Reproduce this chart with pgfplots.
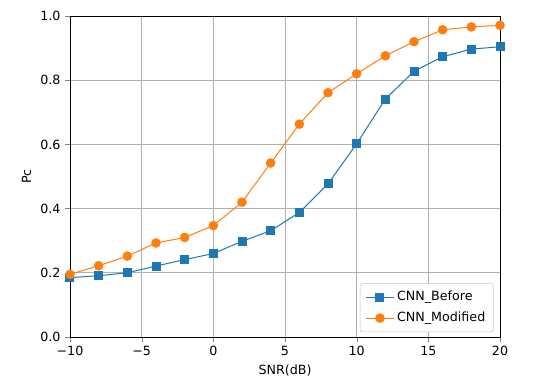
\documentclass[border=0pt]{standalone}
\usepackage{fontspec}
\setmainfont{DejaVu Sans}
\usepackage{pgfplots}
\pgfplotsset{compat=1.18}
\definecolor{mplblue}{HTML}{1F77B4}
\definecolor{mplorange}{HTML}{FF7F0E}
\definecolor{mplgrid}{HTML}{B0B0B0}
\begin{document}
\begin{tikzpicture}[x=1pt,y=1pt]
\begin{axis}[
  scale only axis,
  width=322.5pt, height=240.75pt,
  xmin=-10, xmax=20, ymin=0, ymax=1,
  xtick={-10,-5,0,5,10,15,20},
  xticklabels={−10,−5,0,5,10,15,20},
  ytick={0,0.2,0.4,0.6,0.8,1.0},
  yticklabel style={/pgf/number format/.cd,fixed,fixed zerofill,precision=1},
  /pgf/number format/assume math mode=true,
  tick label style={font=\fontsize{9.5}{11}\selectfont},
  label style={font=\fontsize{9.5}{11}\selectfont},
  xlabel={SNR(dB)}, ylabel={Pc},
  tick align=outside, tick pos=left,
  major tick length=3.6pt,
  grid=major,
  major grid style={mplgrid, line width=0.6pt},
  axis line style={line width=0.6pt},
  legend style={at={(0.985,0.015)}, anchor=south east, font=\fontsize{9.5}{11}\selectfont,
    draw=mplgrid!70, rounded corners=2pt, cells={anchor=west}, inner xsep=4pt, inner ysep=4pt, row sep=3pt},
  legend cell align=left,
  legend image code/.code={\draw[mark repeat=2,mark phase=2,#1] plot coordinates {(0pt,0pt) (10.5pt,0pt) (21pt,0pt)};},
]
\addplot[mplblue, line width=0.75pt, mark=square*, mark size=3pt] coordinates {
(-10,0.185) (-8,0.191) (-6,0.200) (-4,0.221) (-2,0.241) (0,0.260) (2,0.298) (4,0.331)
(6,0.388) (8,0.477) (10,0.602) (12,0.741) (14,0.828) (16,0.873) (18,0.897) (20,0.904)};
\addlegendentry{CNN\_Before}
\addplot[mplorange, line width=0.75pt, mark=*, mark size=3.2pt] coordinates {
(-10,0.195) (-8,0.222) (-6,0.252) (-4,0.293) (-2,0.310) (0,0.347) (2,0.420) (4,0.542)
(6,0.663) (8,0.761) (10,0.820) (12,0.876) (14,0.920) (16,0.957) (18,0.966) (20,0.971)};
\addlegendentry{CNN\_Modified}
\end{axis}
\path (-52.5pt,-33.75pt) rectangle (364.5pt,252.75pt);
\end{tikzpicture}
\end{document}
